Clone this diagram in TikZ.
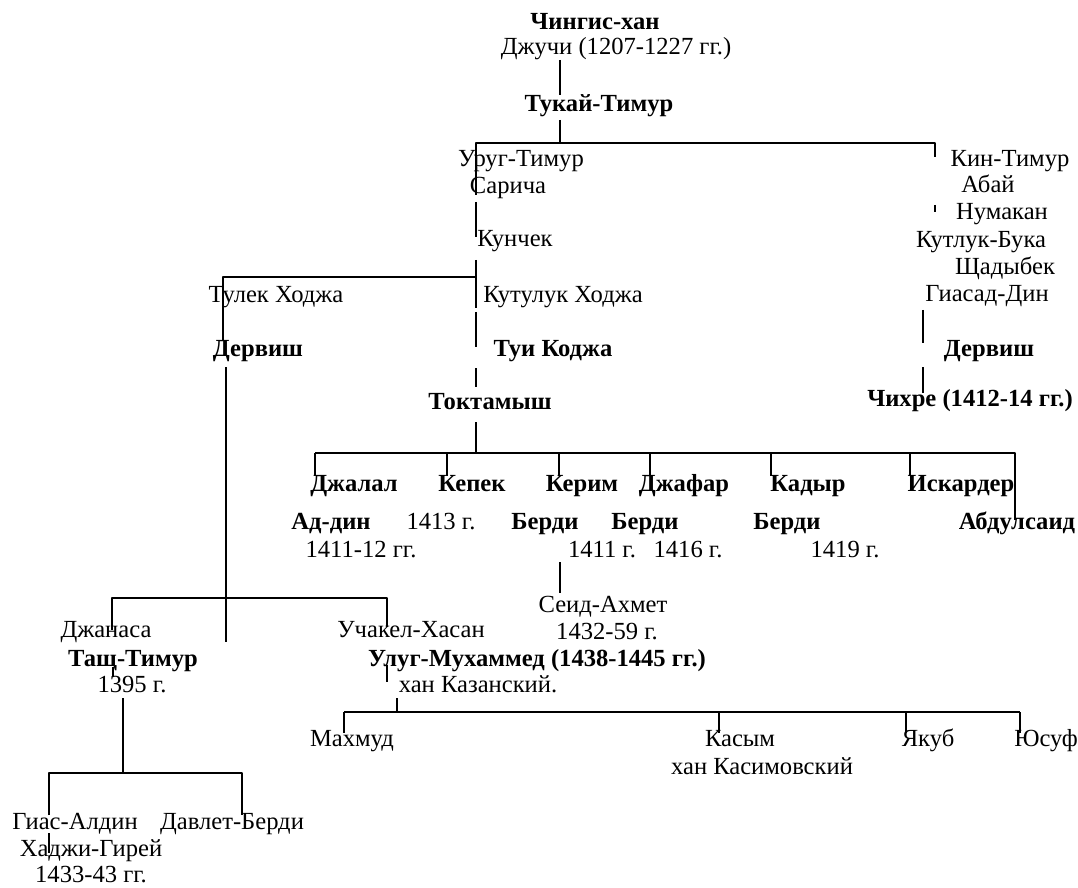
\documentclass[tikz,border=0pt]{standalone}
\usepackage{fontspec}
\setmainfont{Liberation Serif}

\tikzset{
  person/.style={font=\fontsize{14}{16}\selectfont, inner sep=0pt, anchor=mid},
  khan/.style={person, font=\fontsize{14}{16}\selectfont\bfseries},
  link/.style={line width=1pt}
}

\begin{document}
\begin{tikzpicture}[
  x={(0.02cm,0cm)},
  y={(0cm,-0.02cm)},
  line join=round,
  line cap=butt
]
\useasboundingbox (0,0) rectangle (1078,888);

% ---------- upper line ----------
\node[khan]   (chingis) at (595,25)  {Чингис-хан};
\node[person] (jochi)   at (616,50)  {Джучи (1207-1227 гг.)};
\node[khan]   (tukay)   at (599,107) {Тукай-Тимур};
\node[person] (urug)    at (521,162) {Уруг-Тимур};
\node[person] (sarycha) at (508,189) {Сарича};
\node[person] (kunchek) at (515,242) {Кунчек};
\node[person] (tulek)   at (276,298) {Тулек Ходжа};
\node[person] (kutluk)  at (563,298) {Кутулук Ходжа};
\node[khan]   (dervL)   at (258,352) {Дервиш};
\node[khan]   (tui)     at (553,352) {Туи Коджа};
\node[khan]   (tokht)   at (490,405) {Токтамыш};

% ---------- right line ----------
\node[person] (kin)     at (1010,162) {Кин-Тимур};
\node[person] (abay)    at (988,188)  {Абай};
\node[person] (numakan) at (1002,215) {Нумакан};
\node[person] (kbuka)   at (981,243)  {Кутлук-Бука};
\node[person] (shchad)  at (1005,270) {Щадыбек};
\node[person] (giasad)  at (987,297)  {Гиасад-Дин};
\node[khan]   (dervR)   at (989,352)  {Дервиш};
\node[khan]   (chikhre) at (970,402)  {Чихре (1412-14 гг.)};

% ---------- sons of Toktamysh ----------
\node[khan]   (jalal)   at (354,487)  {Джалал};
\node[khan]   (kepek)   at (472,487)  {Кепек};
\node[khan]   (kerim)   at (582,487)  {Керим};
\node[khan]   (jafar)   at (684,487)  {Джафар};
\node[khan]   (kadyr)   at (808,487)  {Кадыр};
\node[khan]   (iskard)  at (961,487)  {Искардер};
\node[khan]   (addin)   at (331,525)  {Ад-дин};
\node[person] (kepekY)  at (441,525)  {1413 г.};
\node[khan]   (kerimB)  at (545,525)  {Берди};
\node[khan]   (jafarB)  at (645,525)  {Берди};
\node[khan]   (kadyrB)  at (787,525)  {Берди};
\node[khan]   (abdul)   at (1017,525) {Абдулсаид};
\node[person] (jalalY)  at (361,553)  {1411-12 гг.};
\node[person] (kerimY)  at (602,553)  {1411 г.};
\node[person] (jafarY)  at (688,553)  {1416 г.};
\node[person] (kadyrY)  at (845,553)  {1419 г.};
\node[person] (seid)    at (603,608)  {Сеид-Ахмет};
\node[person] (seidY)   at (607,635)  {1432-59 г.};

% ---------- lower line ----------
\node[person] (janasa)  at (106,633)  {Джанаса};
\node[khan]   (tash)    at (133,662)  {Тащ-Тимур};
\node[person] (tashY)   at (132,688)  {1395 г.};
\node[person] (uchakel) at (411,633)  {Учакел-Хасан};
\node[khan]   (ulug)    at (537,662)  {Улуг-Мухаммед (1438-1445 гг.)};
\node[person] (kazan)   at (478,688)  {хан Казанский.};
\node[person] (gias)    at (75,825)   {Гиас-Алдин};
\node[person] (davlet)  at (232,825)  {Давлет-Берди};
\node[person] (hajji)   at (91,852)   {Хаджи-Гирей};
\node[person] (hajjiY)  at (91,878)   {1433-43 гг.};
\node[person] (mahmud)  at (352,742)  {Махмуд};
\node[person] (kasym)   at (740,742)  {Касым};
\node[person] (kasimov) at (762,770)  {хан Касимовский};
\node[person] (yakub)   at (928,742)  {Якуб};
\node[person] (yusuf)   at (1046,742) {Юсуф};

% ---------- line ends ----------
\foreach \P/\x/\y in {
  a1/560/60, a2/560/95, a3/560/120, a4/560/143,
  b1/476/143, b2/935/143, b3/935/157, b4/935/205, b5/935/212,
  c1/476/195, c2/476/202, c3/476/237, c4/476/260, c5/476/277, c6/476/308,
  c7/476/312, c8/476/347, c9/476/368, c10/476/387, c11/476/422, c12/476/453,
  d1/223/277, d2/223/340, d3/226/367, d4/226/598, d5/226/642,
  e1/923/310, e2/923/343, e3/923/367, e4/923/393,
  f1/315/453, f2/1015/453, f3/1015/520,
  s1/560/562, s2/560/593,
  g1/112/598, g2/112/630, g3/387/598, g4/387/627, g5/113/667, g6/113/677,
  h1/123/698, h2/123/773, h3/49/773, h4/242/773, h5/49/815, h6/242/815,
  h7/49/833, h8/49/853,
  k1/387/665, k2/387/682, k3/397/698, k4/397/712, k5/344/712, k6/1020/712
}{
  \coordinate (\P) at (\x,\y);
}

\draw[link] (a1) -- (a2) (a3) -- (a4);
\draw[link] (b3) -- (b2) -- (b1) -- (c1) (c2) -- (c3) (b4) -- (b5);
\draw[link] (c4) -- (c6) (c7) -- (c8) (c9) -- (c10) (c11) -- (c12);
\draw[link] (c5) -- (d1) -- (d2) (d3) -- (d5);
\draw[link] (e1) -- (e2) (e3) -- (e4);
\draw[link] (f1) -- (f2) -- (f3);
\foreach \x in {315,447,559,650,771,910}
  \draw[link] (\x,453) -- (\x,476);
\draw[link] (s1) -- (s2);
\draw[link] (g2) -- (g1) -- (g3) -- (g4) (g5) -- (g6);
\draw[link] (h1) -- (h2) (h5) -- (h3) -- (h4) -- (h6) (h7) -- (h8);
\draw[link] (k1) -- (k2) (k3) -- (k4) (k5) -- (k6);
\foreach \x in {344,719,906,1020}
  \draw[link] (\x,712) -- (\x,733);

\end{tikzpicture}
\end{document}
